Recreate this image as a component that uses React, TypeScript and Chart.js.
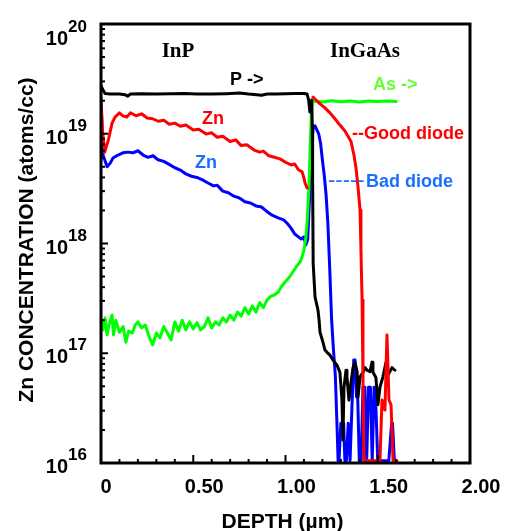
import React, { useEffect, useRef } from "react";
import { Chart, registerables } from "chart.js";

Chart.register(...registerables);

const W = 505;
const H = 531;

// [depth (µm), concentration (atoms/cc)]
const phosphorus: [number, number][] = [
  [0, 2.75e19], [0.011, 2.5e19], [0.022, 2.33e19], [0.05, 2.3e19], [0.1, 2.3e19],
  [0.13, 2.27e19], [0.145, 2.2e19], [0.16, 2.3e19], [0.22, 2.31e19], [0.3, 2.3e19],
  [0.38, 2.32e19], [0.45, 2.33e19], [0.52, 2.3e19], [0.6, 2.3e19], [0.68, 2.32e19],
  [0.75, 2.35e19], [0.8, 2.3e19], [0.83, 2.28e19], [0.87, 2.24e19], [0.9, 2.3e19],
  [0.95, 2.3e19], [1.0, 2.32e19], [1.05, 2.33e19], [1.1, 2.33e19], [1.117, 2.3e19],
  [1.125, 2.05e19], [1.132, 1.58e19], [1.138, 1.87e19], [1.142, 2.03e19], [1.145, 1.2e19],
  [1.147, 3.8e18], [1.15, 6.6e17], [1.155, 4.65e17], [1.16, 3.26e17], [1.176, 2.48e17],
  [1.182, 2.0e17], [1.187, 1.56e17], [1.203, 1.26e17], [1.214, 1.07e17], [1.225, 1.02e17],
  [1.241, 9.6e16], [1.257, 8.7e16], [1.279, 7.8e16], [1.295, 6.7e16], [1.306, 3.75e16],
  [1.311, 1.62e16], [1.317, 4.9e16], [1.328, 7.0e16], [1.333, 6.1e16], [1.344, 3.75e16],
  [1.355, 5.4e16], [1.366, 7.4e16], [1.377, 8.2e16], [1.388, 6.8e16], [1.393, 4.0e16],
  [1.404, 6.1e16], [1.42, 6.7e16], [1.431, 7.4e16], [1.442, 7.0e16], [1.458, 6.8e16],
  [1.469, 8.3e16], [1.474, 6.7e16], [1.49, 6.0e16], [1.501, 3.4e16], [1.512, 4.9e16],
  [1.528, 6.1e16], [1.545, 8.3e16], [1.555, 6.3e16], [1.577, 7.4e16], [1.593, 7.0e16],
];

const znGoodDiode: [number, number | null][] = [
  [0, 2.12e19], [0.008, 1.08e19], [0.02, 6.8e18], [0.04, 8.8e18], [0.06, 1.25e19],
  [0.076, 1.42e19], [0.1, 1.55e19], [0.12, 1.45e19], [0.14, 1.42e19], [0.16, 1.55e19],
  [0.19, 1.46e19], [0.22, 1.52e19], [0.25, 1.39e19], [0.28, 1.37e19], [0.31, 1.3e19],
  [0.34, 1.33e19], [0.37, 1.22e19], [0.4, 1.25e19], [0.43, 1.17e19], [0.46, 1.2e19],
  [0.5, 1.08e19], [0.53, 1.1e19], [0.57, 9.95e18], [0.6, 1.02e19], [0.63, 9.3e18],
  [0.66, 9.5e18], [0.7, 8.5e18], [0.73, 8.8e18], [0.76, 7.8e18], [0.79, 7.95e18],
  [0.83, 7.1e18], [0.86, 6.8e18], [0.88, 6.95e18], [0.91, 6.3e18], [0.94, 6.1e18],
  [0.97, 5.9e18], [1.0, 5.5e18], [1.03, 5.2e18], [1.05, 5.3e18], [1.07, 4.7e18],
  [1.09, 4.5e18], [1.1, 3.95e18], [1.106, 3.56e18], [1.117, 3.2e18], [1.13, null],
  [1.149, 2.16e19], [1.165, 2.03e19], [1.187, 1.87e19], [1.214, 1.72e19], [1.241, 1.55e19],
  [1.268, 1.37e19], [1.295, 1.2e19], [1.322, 1.06e19], [1.339, 9.5e18], [1.355, 8.5e18],
  [1.371, 6.4e18], [1.382, 4.9e18], [1.393, 3.27e18], [1.404, 2.02e18], [1.409, 8.7e17],
  [1.415, 3.06e17], [1.42, 5.7e16], [1.425, 1.05e16], [1.512, 1.05e16], [1.523, 3.75e16],
  [1.539, 3.04e16], [1.55, 1.47e17], [1.561, 3.75e16], [1.572, 3.38e16], [1.583, 1.05e16],
  [1.604, 1.05e16],
];

const znBadDiode: [number, number][] = [
  [0, 2.03e19], [0.011, 6.4e18], [0.033, 5.0e18], [0.05, 5.4e18], [0.065, 6.0e18],
  [0.092, 6.4e18], [0.119, 6.7e18], [0.146, 6.8e18], [0.173, 6.7e18], [0.2, 7.0e18],
  [0.228, 6.4e18], [0.255, 6.1e18], [0.282, 6.3e18], [0.309, 5.8e18], [0.34, 5.6e18],
  [0.374, 5.2e18], [0.4, 4.9e18], [0.43, 4.67e18], [0.46, 4.3e18], [0.49, 4.1e18],
  [0.52, 4.0e18], [0.55, 3.8e18], [0.58, 3.56e18], [0.61, 3.35e18], [0.63, 3.4e18],
  [0.66, 3.0e18], [0.69, 2.9e18], [0.72, 2.7e18], [0.75, 2.6e18], [0.78, 2.4e18],
  [0.81, 2.34e18], [0.84, 2.2e18], [0.87, 2.15e18], [0.9, 1.95e18], [0.93, 1.8e18],
  [0.96, 1.71e18], [0.99, 1.64e18], [1.01, 1.52e18], [1.03, 1.38e18], [1.05, 1.22e18],
  [1.07, 1.15e18], [1.085, 1.1e18], [1.1, 1.15e18], [1.11, 9.7e17], [1.12, 1.08e18],
  [1.13, 2.5e18], [1.14, 7.1e18], [1.15, 1.15e19], [1.16, 1.18e19], [1.18, 9.95e18],
  [1.19, 8.2e18], [1.2, 5.77e18], [1.21, 4.2e18], [1.22, 2.77e18], [1.23, 1.48e18],
  [1.24, 5.74e17], [1.25, 2.0e17], [1.26, 1.07e17], [1.27, 6.3e16], [1.28, 2.0e16],
  [1.285, 1.05e16], [1.29, 1.05e16], [1.3, 2.3e16], [1.315, 2.3e16], [1.322, 1.05e16],
  [1.33, 1.05e16], [1.34, 2.3e16], [1.35, 1.05e16], [1.36, 3.2e16], [1.37, 8.7e16],
  [1.377, 8.7e16], [1.385, 4.0e16], [1.39, 4.9e16], [1.4, 1.05e16], [1.41, 1.05e16],
  [1.42, 4.9e16], [1.43, 4.9e16], [1.44, 1.05e16], [1.45, 4.9e16], [1.46, 4.9e16],
  [1.47, 1.05e16], [1.48, 4.9e16], [1.49, 3.2e16], [1.5, 1.05e16], [1.56, 1.05e16],
  [1.575, 2.3e16], [1.58, 2.3e16], [1.59, 1.05e16], [1.6, 1.05e16],
];

const arsenic: [number, number][] = [
  [0, 2.0e17], [0.011, 1.63e17], [0.022, 2.1e17], [0.033, 1.47e17], [0.043, 1.81e17],
  [0.06, 2.23e17], [0.068, 1.47e17], [0.08, 2.0e17], [0.1, 1.55e17], [0.12, 1.75e17],
  [0.135, 1.26e17], [0.15, 1.59e17], [0.17, 1.53e17], [0.185, 1.81e17], [0.2, 1.93e17],
  [0.22, 1.7e17], [0.24, 1.81e17], [0.26, 1.43e17], [0.28, 1.19e17], [0.3, 1.53e17],
  [0.32, 1.38e17], [0.34, 1.75e17], [0.36, 1.53e17], [0.38, 1.32e17], [0.4, 1.93e17],
  [0.42, 1.59e17], [0.44, 2.0e17], [0.46, 1.63e17], [0.48, 1.93e17], [0.5, 1.67e17],
  [0.52, 1.9e17], [0.54, 1.63e17], [0.56, 1.75e17], [0.58, 2.1e17], [0.6, 1.7e17],
  [0.62, 1.93e17], [0.64, 1.81e17], [0.66, 2.1e17], [0.68, 1.93e17], [0.7, 2.23e17],
  [0.72, 2.0e17], [0.74, 2.37e17], [0.76, 2.18e17], [0.78, 2.6e17], [0.8, 2.28e17],
  [0.82, 2.7e17], [0.84, 2.37e17], [0.86, 2.9e17], [0.88, 2.6e17], [0.9, 3.06e17],
  [0.92, 3.3e17], [0.94, 3.4e17], [0.96, 3.6e17], [0.98, 4.1e17], [1.0, 4.5e17],
  [1.02, 4.9e17], [1.04, 5.5e17], [1.06, 6.2e17], [1.08, 6.8e17], [1.09, 7.6e17],
  [1.1, 8.7e17], [1.11, 1.12e18], [1.118, 1.64e18], [1.125, 2.77e18], [1.13, 4.67e18],
  [1.135, 8.8e18], [1.14, 1.48e19], [1.145, 1.91e19], [1.155, 1.99e19], [1.2, 1.95e19],
  [1.25, 2.0e19], [1.3, 1.96e19], [1.35, 1.99e19], [1.4, 1.95e19], [1.45, 1.99e19],
  [1.5, 1.97e19], [1.55, 1.99e19], [1.6, 1.97e19],
];

const yDecades = [1e16, 1e17, 1e18, 1e19, 1e20];
const yExponents = ["16", "17", "18", "19", "20"];
const xMajorTicks = [0, 0.5, 1.0, 1.5, 2.0];
const xTickLabels = ["0", "0.50", "1.00", "1.50", "2.00"];
const xMinorTicks = [0.1, 0.2, 0.3, 0.4, 0.6, 0.7, 0.8, 0.9, 1.1, 1.2, 1.3, 1.4, 1.6, 1.7, 1.8, 1.9];
const yMinorFactors = [2, 3, 4, 5, 6, 7, 8, 9];

const SANS = "Arial, 'Liberation Sans', Helvetica, sans-serif";
const SERIF = "'Times New Roman', 'Liberation Serif', serif";

const toXY = (arr: [number, number | null][]) => arr.map(([x, y]) => ({ x, y }));

const decorPlugin = {
  id: "decor",
  afterDraw(chart: any) {
    const { ctx, chartArea: a, scales } = chart;
    const xs = scales.x;
    const ys = scales.y;
    ctx.save();
    ctx.strokeStyle = "#000";
    ctx.lineCap = "butt";

    const seg = (x1: number, y1: number, x2: number, y2: number) => {
      ctx.beginPath();
      ctx.moveTo(x1, y1);
      ctx.lineTo(x2, y2);
      ctx.stroke();
    };

    // ticks (inside)
    ctx.lineWidth = 2;
    yDecades.forEach((d, i) => {
      const py = ys.getPixelForValue(d);
      seg(a.left, py, a.left + 7, py);
      if (i < yDecades.length - 1) {
        yMinorFactors.forEach((m) => {
          const p = ys.getPixelForValue(d * m);
          seg(a.left, p, a.left + 4, p);
        });
      }
    });
    xMajorTicks.forEach((v) => {
      const px = xs.getPixelForValue(v);
      seg(px, a.bottom, px, a.bottom - 8);
    });
    xMinorTicks.forEach((v) => {
      const px = xs.getPixelForValue(v);
      seg(px, a.bottom, px, a.bottom - 4);
    });

    // frame
    ctx.lineWidth = 3;
    ctx.strokeRect(a.left, a.top, a.right - a.left, a.bottom - a.top);

    // y tick labels 10^n
    ctx.fillStyle = "#000";
    ctx.textBaseline = "alphabetic";
    yDecades.forEach((d, i) => {
      const py = ys.getPixelForValue(d);
      const base = Math.max(py + 10, a.top + 21);
      ctx.textAlign = "right";
      ctx.font = `bold 20px ${SANS}`;
      ctx.fillText("10", a.left - 33, base);
      ctx.textAlign = "left";
      ctx.font = `bold 17px ${SANS}`;
      ctx.fillText(yExponents[i], a.left - 33, base - 13);
    });

    // x tick labels
    ctx.font = `bold 20px ${SANS}`;
    ctx.textAlign = "center";
    xMajorTicks.forEach((v, i) => {
      const px = xs.getPixelForValue(v);
      const lab = xTickLabels[i];
      ctx.fillText(lab, px + (lab.length > 1 ? 11 : 5), a.bottom + 30);
    });

    // axis titles
    ctx.font = `bold 21px ${SANS}`;
    ctx.textAlign = "center";
    ctx.fillText("DEPTH (µm)", (a.left + a.right) / 2 - 3, a.bottom + 65);
    ctx.save();
    ctx.translate(33, 240);
    ctx.rotate(-Math.PI / 2);
    ctx.fillText("Zn CONCENTRATION (atoms/cc)", 0, 0);
    ctx.restore();

    // annotations
    ctx.textAlign = "center";
    ctx.font = `bold 21px ${SERIF}`;
    ctx.fillText("InP", 178, 57);
    ctx.fillText("InGaAs", 365, 57);

    ctx.textAlign = "left";
    ctx.font = `bold 18px ${SANS}`;
    ctx.fillStyle = "#000";
    ctx.fillText("P ->", 230, 85);
    ctx.fillStyle = "#66ff33";
    ctx.fillText("As ->", 373, 90);
    ctx.fillStyle = "#ff0000";
    ctx.fillText("Zn", 202, 124);
    ctx.fillText("--Good diode", 352, 139);
    ctx.fillStyle = "#1a6fff";
    ctx.fillText("Zn", 195, 168);
    ctx.fillText("Bad diode", 366, 187);
    ctx.font = `22px ${SANS}`;
    ctx.fillText("-----", 328, 187);

    ctx.restore();
  },
};

export default function App() {
  const ref = useRef<HTMLCanvasElement | null>(null);

  useEffect(() => {
    if (!ref.current) return;
    const common = {
      pointRadius: 0,
      borderWidth: 3,
      tension: 0,
      fill: false,
      spanGaps: false,
      borderJoinStyle: "round" as const,
      borderCapStyle: "round" as const,
    };
    const chart = new Chart(ref.current, {
      type: "line",
      data: {
        datasets: [
          { ...common, label: "Zn good diode", data: toXY(znGoodDiode), borderColor: "#ff0000", order: 0 },
          { ...common, label: "P", data: toXY(phosphorus), borderColor: "#000000", order: 1 },
          { ...common, label: "As", data: toXY(arsenic), borderColor: "#00ff00", order: 2 },
          { ...common, label: "Zn bad diode", data: toXY(znBadDiode), borderColor: "#0000ff", order: 3 },
        ],
      },
      options: {
        responsive: false,
        animation: false,
        devicePixelRatio: 1,
        layout: { padding: { left: 101, top: 24, right: 35, bottom: 68 } },
        plugins: { legend: { display: false }, tooltip: { enabled: false } },
        scales: {
          x: { type: "linear", min: 0, max: 2, display: false },
          y: { type: "logarithmic", min: 1e16, max: 1e20, display: false },
        },
      },
      plugins: [decorPlugin],
    });
    return () => chart.destroy();
  }, []);

  return (
    <div style={{ position: "absolute", left: 0, top: 0, width: W, height: H, background: "#fff" }}>
      <canvas ref={ref} width={W} height={H} style={{ display: "block", width: W, height: H }} />
    </div>
  );
}
